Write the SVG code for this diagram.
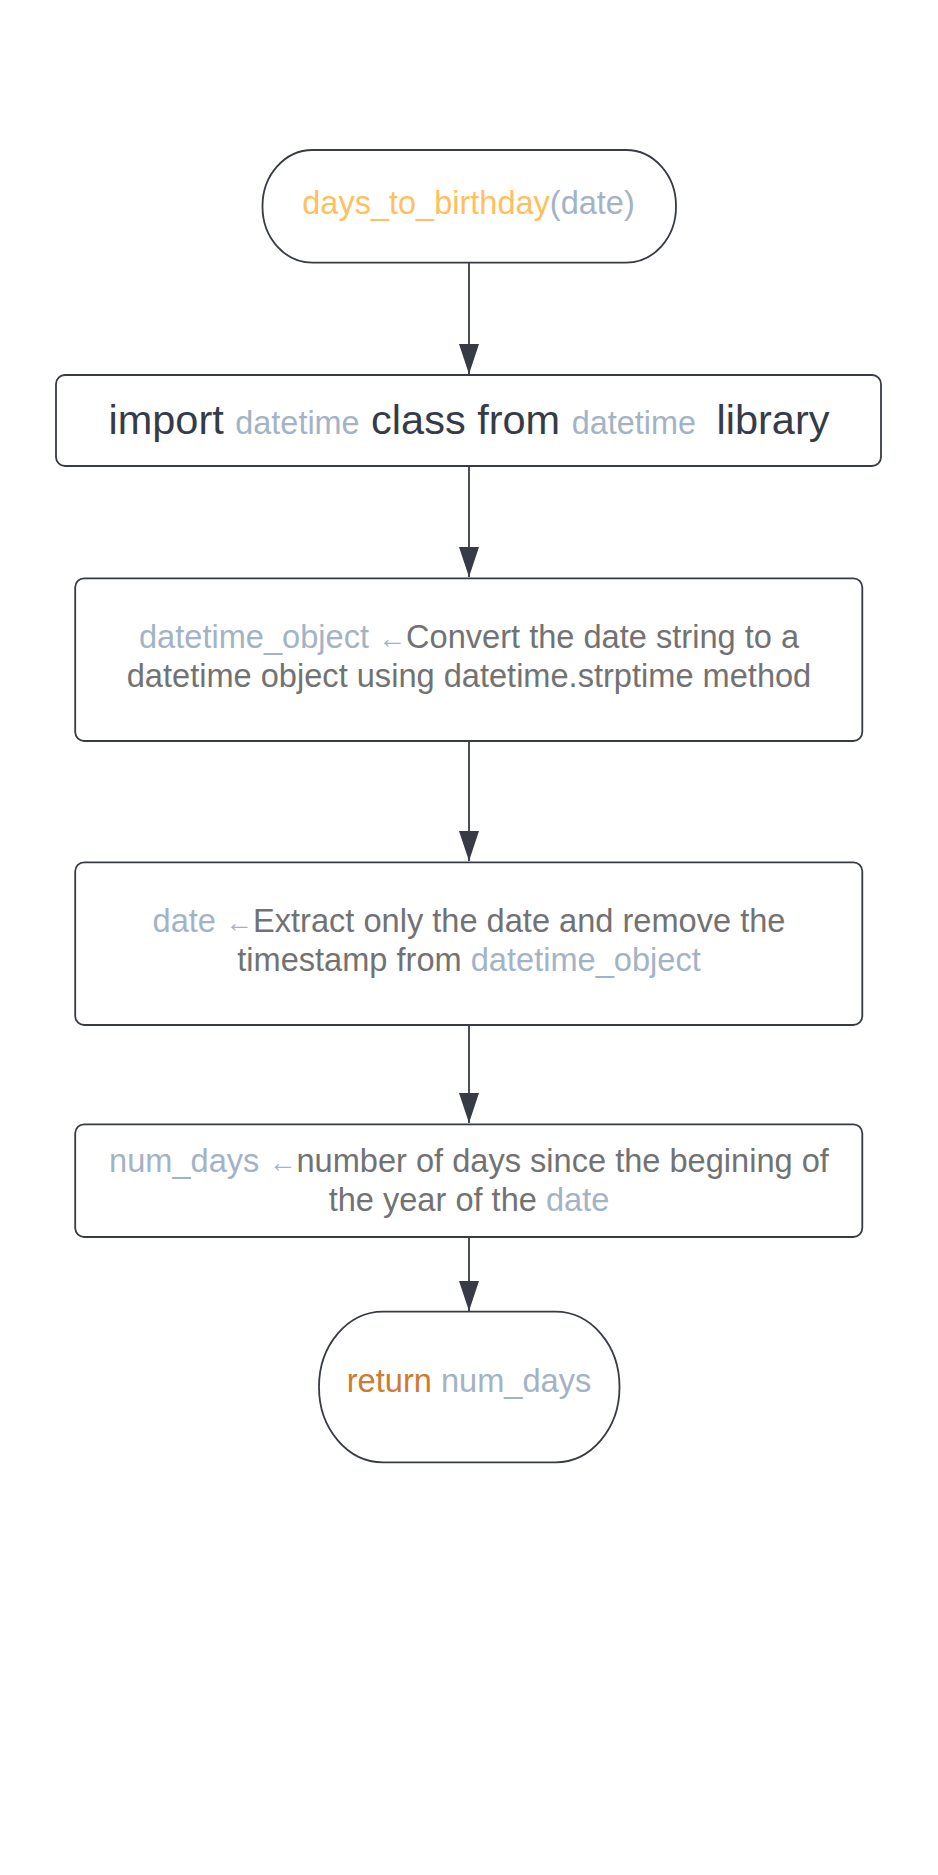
<svg xmlns="http://www.w3.org/2000/svg" width="938" height="1875" viewBox="0 0 938 1875">
<defs>
<style>
.shape{fill:#ffffff;stroke:#363b45;stroke-width:1.8}
.conn{stroke:#363b45;stroke-width:1.8;fill:none}
text{font-family:"Liberation Sans",Arial,sans-serif;white-space:pre}
.body{font-size:32.6px;fill:#727272}
.var{fill:#a3b3c5}
.fn{fill:#ffbf60}
.ret{fill:#cf7a2f}
.dark{fill:#353c48}
.arr{font-size:28px;fill:#a3b3c5}
</style>
<marker id="ah" viewBox="0 0 30 20" refX="30" refY="10" markerWidth="30" markerHeight="20" markerUnits="userSpaceOnUse" orient="auto">
<path d="M0,0 L30,10 L0,20 Z" fill="#363b45"/>
</marker>
</defs>
<rect width="938" height="1875" fill="#ffffff"/>
<g id="connectors">
<line class="conn" x1="469" y1="263" x2="469" y2="374" marker-end="url(#ah)"/>
<line class="conn" x1="469" y1="466" x2="469" y2="577" marker-end="url(#ah)"/>
<line class="conn" x1="469" y1="741" x2="469" y2="861" marker-end="url(#ah)"/>
<line class="conn" x1="469" y1="1025" x2="469" y2="1123" marker-end="url(#ah)"/>
<line class="conn" x1="469" y1="1237" x2="469" y2="1311" marker-end="url(#ah)"/>
</g>
<g id="start">
<rect class="shape" x="262.5" y="150" width="413.5" height="112.7" rx="50" ry="56"/>
<text x="468.5" y="214" text-anchor="middle" font-size="32.5"><tspan class="fn">days_to_birthday</tspan><tspan class="var">(date)</tspan></text>
</g>
<g id="import">
<rect class="shape" x="56" y="375" width="825" height="91" rx="9"/>
<text x="469" y="433.5" text-anchor="middle" class="dark" font-size="41.5"><tspan>import </tspan><tspan class="var" font-size="32.4">datetime</tspan><tspan> class from </tspan><tspan class="var" font-size="32.4">datetime </tspan><tspan> library</tspan></text>
</g>
<g id="convert">
<rect class="shape" x="75.2" y="578.3" width="787.1" height="162.7" rx="9"/>
<text x="469" y="648.3" text-anchor="middle" class="body"><tspan class="var">datetime_object </tspan><tspan class="arr">←</tspan><tspan>Convert the date string to a</tspan></text>
<text x="469" y="687.3" text-anchor="middle" class="body">datetime object using datetime.strptime method</text>
</g>
<g id="extract">
<rect class="shape" x="75.2" y="862.3" width="787.1" height="162.7" rx="9"/>
<text x="469" y="931.7" text-anchor="middle" class="body"><tspan class="var">date </tspan><tspan class="arr">←</tspan><tspan>Extract only the date and remove the</tspan></text>
<text x="469" y="970.7" text-anchor="middle" class="body"><tspan>timestamp from </tspan><tspan class="var">datetime_object</tspan></text>
</g>
<g id="numdays">
<rect class="shape" x="75.2" y="1124.3" width="787.1" height="112.7" rx="9"/>
<text x="469" y="1171.7" text-anchor="middle" class="body"><tspan class="var">num_days </tspan><tspan class="arr">←</tspan><tspan>number of days since the begining of</tspan></text>
<text x="469" y="1211" text-anchor="middle" class="body"><tspan>the year of the </tspan><tspan class="var">date</tspan></text>
</g>
<g id="end">
<rect class="shape" x="319" y="1311.7" width="300.5" height="150.6" rx="64" ry="75"/>
<text x="469" y="1391.7" text-anchor="middle" font-size="32.6"><tspan class="ret">return</tspan><tspan class="var"> num_days</tspan></text>
</g>
</svg>
